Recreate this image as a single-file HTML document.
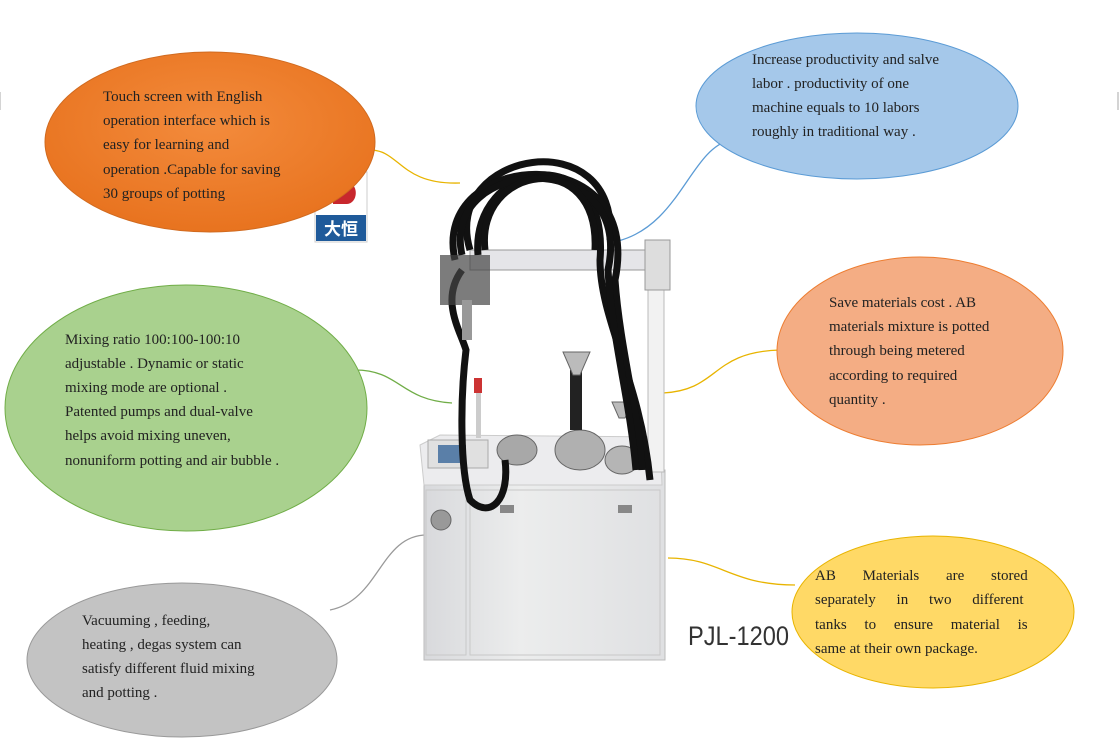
<!DOCTYPE html>
<html><head><meta charset="utf-8"><style>
body{margin:0;background:#fff;}
svg{display:block}
text{font-family:"Liberation Serif",serif;font-size:15px;fill:#222}
</style></head><body>
<svg width="1120" height="742" viewBox="0 0 1120 742">
<defs>
<radialGradient id="go" cx="50%" cy="40%" r="60%"><stop offset="0" stop-color="#f38b3c"/><stop offset="1" stop-color="#e8731f"/></radialGradient>
<linearGradient id="cab" x1="0" x2="1"><stop offset="0" stop-color="#d8d9dc"/><stop offset="0.4" stop-color="#eceded"/><stop offset="1" stop-color="#dfe0e2"/></linearGradient>
</defs>
<line x1="0" y1="92" x2="0" y2="110" stroke="#aaa"/>
<line x1="1118" y1="92" x2="1118" y2="110" stroke="#aaa"/>
<!-- connectors -->
<path d="M370,150 C400,150 400,185 460,183" fill="none" stroke="#e8b400" stroke-width="1.3"/>
<path d="M618,241 C680,225 690,150 730,140" fill="none" stroke="#5b9bd5" stroke-width="1.3"/>
<path d="M355,370 C400,370 400,400 452,403" fill="none" stroke="#70ad47" stroke-width="1.3"/>
<path d="M663,393 C720,390 710,352 780,350" fill="none" stroke="#e8b400" stroke-width="1.3"/>
<path d="M427,535 C380,535 380,600 330,610" fill="none" stroke="#999" stroke-width="1.3"/>
<path d="M668,558 C720,558 730,585 795,585" fill="none" stroke="#e8b400" stroke-width="1.3"/>
<!-- machine -->
<rect x="424" y="470" width="241" height="190" fill="url(#cab)" stroke="#bbb"/>
<rect x="470" y="490" width="190" height="165" fill="none" stroke="#c8c8c8"/>
<rect x="426" y="490" width="40" height="165" fill="none" stroke="#c8c8c8"/>
<circle cx="441" cy="520" r="10" fill="#999" stroke="#666"/>
<rect x="500" y="505" width="14" height="8" fill="#888"/><rect x="618" y="505" width="14" height="8" fill="#888"/>
<path d="M420,445 L440,435 L660,437 L662,485 L424,485 Z" fill="#ececee" stroke="#ccc"/>
<rect x="428" y="440" width="60" height="28" fill="#e0e0e0" stroke="#aaa"/>
<rect x="438" y="445" width="28" height="18" fill="#5a7fa8"/>
<rect x="476" y="378" width="5" height="60" fill="#ccc"/><rect x="474" y="378" width="8" height="15" fill="#c33"/>
<ellipse cx="517" cy="450" rx="20" ry="15" fill="#a8a8a8" stroke="#666"/>
<ellipse cx="580" cy="450" rx="25" ry="20" fill="#b0b0b0" stroke="#666"/>
<ellipse cx="622" cy="460" rx="17" ry="14" fill="#b5b5b5" stroke="#666"/>
<rect x="570" y="370" width="12" height="60" fill="#222"/>
<path d="M563,352 L590,352 L580,375 L573,375 Z" fill="#bbb" stroke="#666"/>
<path d="M612,402 L633,402 L625,418 L619,418 Z" fill="#bbb" stroke="#666"/>
<rect x="648" y="272" width="16" height="200" fill="#f2f2f2" stroke="#bbb"/>
<rect x="470" y="250" width="200" height="20" fill="#e5e5e8" stroke="#999"/>
<rect x="645" y="240" width="25" height="50" fill="#ddd" stroke="#999"/>
<g fill="none" stroke="#111" stroke-width="7">
<path d="M470,250 C440,150 620,120 610,240"/>
<path d="M478,255 C470,160 610,135 600,260 C600,320 640,380 650,480"/>
<path d="M462,270 C440,300 460,330 466,350 C460,400 460,470 470,500 C490,520 510,500 505,460"/>
<path d="M455,260 C430,150 645,135 615,280 C620,350 640,420 642,470"/>
<path d="M462,255 C440,155 635,145 608,270 C612,340 630,400 636,470"/>
<path d="M485,250 C475,165 600,145 595,250"/>
</g>
<rect x="440" y="255" width="50" height="50" fill="#444" opacity="0.7"/>
<rect x="462" y="300" width="10" height="40" fill="#999"/>
<!-- logo -->
<rect x="315" y="172" width="52" height="70" fill="#fff" stroke="#ccc"/>
<path d="M333,182 h14 a8,10 0 0 1 0,22 h-14 z" fill="#c8272d"/>
<rect x="316" y="215" width="50" height="26" fill="#1f5a9a"/>
<text x="341" y="235" text-anchor="middle" style="font-family:'Noto Sans CJK SC',sans-serif;font-size:17px;fill:#fff;font-weight:bold">大恒</text>
<!-- ellipses -->
<ellipse cx="210" cy="142" rx="165" ry="90" fill="url(#go)" stroke="#d06a1f"/>
<text><tspan x="103" y="101">Touch screen with English</tspan><tspan x="103" y="125">operation interface which is</tspan><tspan x="103" y="149">easy for learning and</tspan><tspan x="103" y="174">operation .Capable for saving</tspan><tspan x="103" y="198">30 groups of potting</tspan></text>
<ellipse cx="857" cy="106" rx="161" ry="73" fill="#a5c8ea" stroke="#5b9bd5"/>
<text><tspan x="752" y="64">Increase productivity and salve</tspan><tspan x="752" y="88">labor . productivity of one</tspan><tspan x="752" y="112">machine equals to 10 labors</tspan><tspan x="752" y="136">roughly in traditional way .</tspan></text>
<ellipse cx="186" cy="408" rx="181" ry="123" fill="#a9d18e" stroke="#70ad47"/>
<text><tspan x="65" y="344">Mixing ratio 100:100-100:10</tspan><tspan x="65" y="368">adjustable . Dynamic or static</tspan><tspan x="65" y="392">mixing mode are optional .</tspan><tspan x="65" y="416">Patented pumps and dual-valve</tspan><tspan x="65" y="440">helps avoid mixing uneven,</tspan><tspan x="65" y="465">nonuniform potting and air bubble .</tspan></text>
<ellipse cx="920" cy="351" rx="143" ry="94" fill="#f4ad84" stroke="#ed7d31"/>
<text><tspan x="829" y="307">Save materials cost . AB</tspan><tspan x="829" y="331">materials mixture is potted</tspan><tspan x="829" y="355">through being metered</tspan><tspan x="829" y="380">according to required</tspan><tspan x="829" y="404">quantity .</tspan></text>
<ellipse cx="933" cy="612" rx="141" ry="76" fill="#ffd966" stroke="#e8b400"/>
<text x="815" y="580" style="word-spacing:23px">AB Materials are stored</text>
<text x="815" y="604" style="word-spacing:17px">separately in two different</text>
<text x="815" y="629" style="word-spacing:14px">tanks to ensure material is</text>
<text x="815" y="653">same at their own package.</text>
<ellipse cx="182" cy="660" rx="155" ry="77" fill="#c3c3c3" stroke="#999"/>
<text><tspan x="82" y="625">Vacuuming , feeding,</tspan><tspan x="82" y="649">heating , degas system can</tspan><tspan x="82" y="673">satisfy different fluid mixing</tspan><tspan x="82" y="697">and potting .</tspan></text>
<text x="688" y="645" textLength="101" lengthAdjust="spacingAndGlyphs" style="font-family:'Liberation Sans',sans-serif;font-size:27px;fill:#333">PJL-1200</text>
</svg>
</body></html>
